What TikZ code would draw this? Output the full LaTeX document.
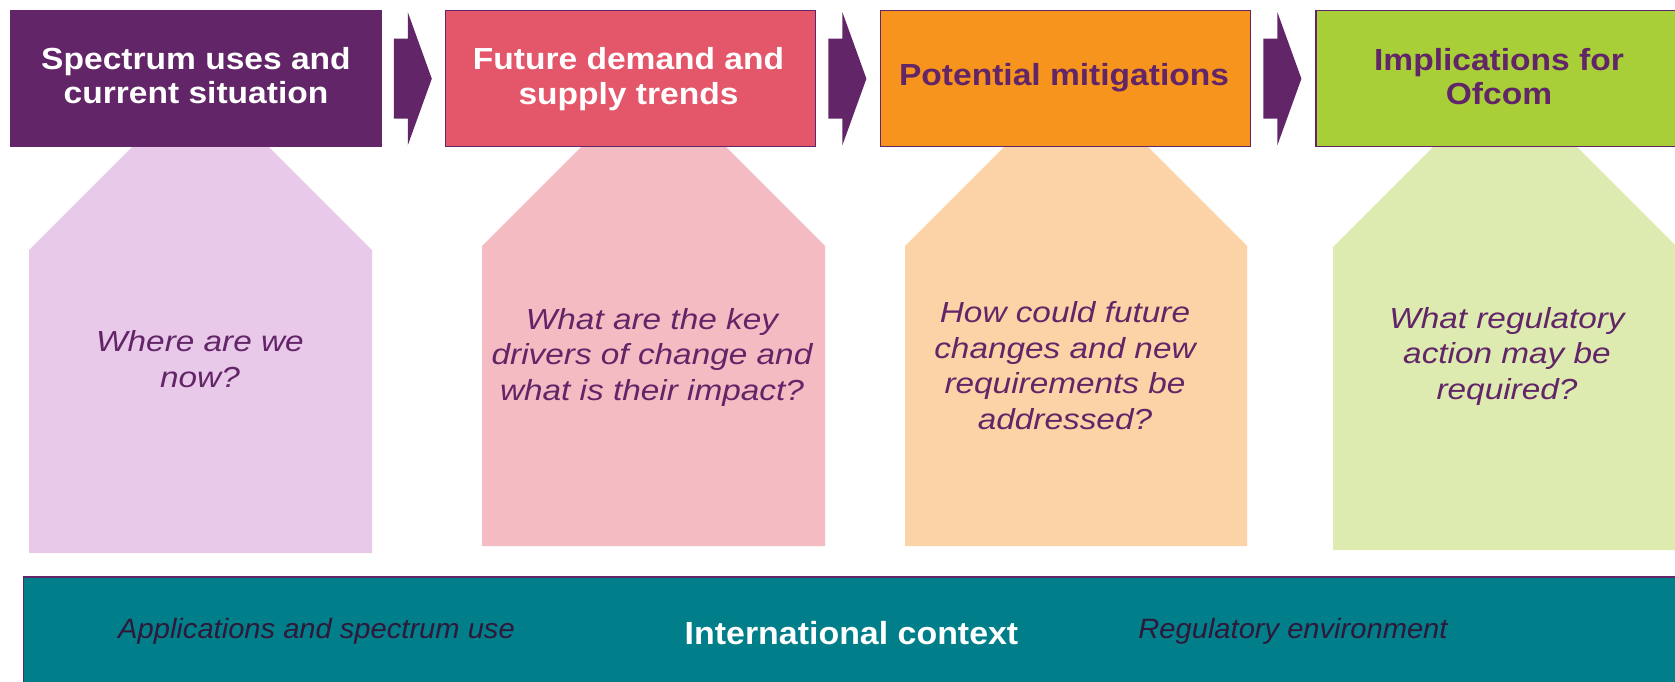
\documentclass[tikz,border=0pt]{standalone}
\usepackage{fontspec}
\setmainfont{Liberation Sans}
\newfontfamily\titlefont[FakeStretch=1.1]{Liberation Sans}
\newfontfamily\qfont[FakeStretch=1.15]{Liberation Sans}
\newfontfamily\bandfont[FakeStretch=1.04]{Liberation Sans}
\newfontfamily\ctxfont[FakeStretch=1.06]{Liberation Sans}
\usetikzlibrary{calc}
\definecolor{ofpurple}{HTML}{622567}
\definecolor{ofred}{HTML}{E4566A}
\definecolor{oforange}{HTML}{F7941E}
\definecolor{ofgreen}{HTML}{A8CE38}
\definecolor{lilac}{HTML}{E9C9E9}
\definecolor{lpink}{HTML}{F4BBC2}
\definecolor{peach}{HTML}{FBD3A6}
\definecolor{lgreen}{HTML}{DDEBB0}
\definecolor{teal}{HTML}{007F8B}
\definecolor{darktext}{HTML}{2F1838}
\tikzset{
  titlebox/.style={draw=ofpurple, line width=1.5pt, minimum width=370.3pt, minimum height=136pt, inner sep=0pt},
  titletext/.style={inner sep=0pt, align=center, font=\titlefont\bfseries\fontsize{30.5}{34.5}\selectfont},
  qtext/.style={inner sep=0pt, align=center, text=ofpurple, font=\qfont\itshape\fontsize{29}{35.5}\selectfont},
  bandtext/.style={inner sep=0pt, anchor=base, text=darktext, font=\bandfont\itshape\fontsize{28}{32}\selectfont},
  chevron/.style={fill=ofpurple}
}
\begin{document}
\begin{tikzpicture}[x=1pt,y=-1pt]
\useasboundingbox (0,0) rectangle (1675,681);
\clip (0,0) rectangle (1675,681);
\fill[white] (0,0) rectangle (1675,681);
% pentagons
\fill[lilac] (29,553) -- (29,250) -- (132,147) -- (269,147) -- (372,250) -- (372,553) -- cycle;
\fill[lpink] (482,546) -- (482,246) -- (581,147) -- (726,147) -- (825,246) -- (825,546) -- cycle;
\fill[peach] (905,546) -- (905,246) -- (1004,147) -- (1148,147) -- (1247,246) -- (1247,546) -- cycle;
\fill[lgreen] (1333,550) -- (1333,247) -- (1433,147) -- (1577,147) -- (1677,247) -- (1677,550) -- cycle;
% title boxes
\node[titlebox, fill=ofpurple] (b1) at (195.9,78.7) {};
\node[titlebox, fill=ofred] (b2) at (630.5,78.7) {};
\node[titlebox, fill=oforange] (b3) at (1065.5,78.7) {};
\node[titlebox, fill=ofgreen] (b4) at (1501,78.7) {};
% chevrons between boxes
\foreach \a/\b in {b1/b2,b2/b3,b3/b4}{
  \fill[chevron] ($(\a.east)+(12,-40)$) -- ($(\a.east)+(26,-40)$) -- ($(\a.east)+(26,-66.5)$)
    -- ($(\a.east)+(50,0)$) -- ($(\a.east)+(26,66.5)$) -- ($(\a.east)+(26,40)$)
    -- ($(\a.east)+(12,40)$) -- cycle;
}
% title texts
\node[titletext, text=white] (t1) at (196,75.8) {Spectrum uses and\\current situation};
\node[titletext, text=white] (t2) at (628.5,78.9) {Future demand and\\supply trends};
\node[titletext, text=ofpurple, anchor=base] (t3) at (1064,85) {Potential mitigations};
\node[titletext, text=ofpurple] (t4) at (1499,76.6) {Implications for\\Ofcom};
% questions
\node[qtext] (q1) at (200,359) {Where are we\\now?};
\node[qtext] (q2) at (652,357) {What are the key\\drivers of change and\\what is their impact?};
\node[qtext] (q3) at (1065,365.5) {How could future\\changes and new\\requirements be\\addressed?};
\node[qtext] (q4) at (1507,356) {What regulatory\\action may be\\required?};
% bottom band
\fill[teal] (23.5,577) rectangle (1690,700);
\draw[ofpurple, line width=1.5pt] (23.5,700) -- (23.5,577) -- (1690,577);
\node[bandtext] (a1) at (316.5,638) {Applications and spectrum use};
\node[inner sep=0pt, anchor=base, text=white, font=\ctxfont\bfseries\fontsize{32}{36}\selectfont] (a2) at (851.5,644) {International\ context};
\node[bandtext] (a3) at (1293,638) {Regulatory environment};
\end{tikzpicture}
\end{document}
